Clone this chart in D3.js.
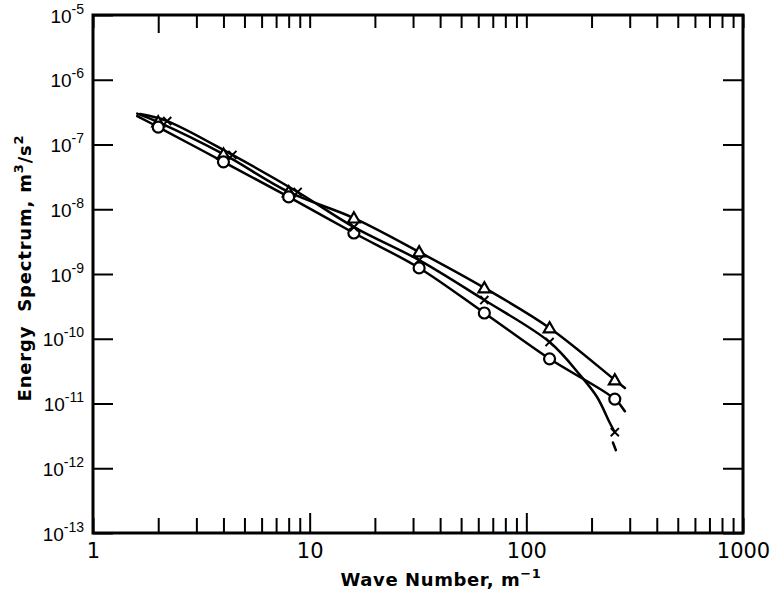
<!DOCTYPE html>
<html>
<head>
<meta charset="utf-8">
<script src="https://cdn.jsdelivr.net/npm/d3@7"></script>
<style>
  body { margin: 0; background: #fff; }
  svg { display: block; font-family: "DejaVu Sans", sans-serif; }
</style>
</head>
<body>
<script>
"use strict";

// wave numbers of the measured points (the x points are drawn a bit to the right at low k)
const waveNumbers = [2, 4, 8, 16, 32, 64, 128, 256];
const crossWaveNumbers = [2.2, 4.4, 8.8, 16, 32, 64, 128, 256];

// energy spectrum values, m^3/s^2
const triangleValues = [2.22e-7, 7.1e-8, 1.85e-8, 7.3e-9, 2.19e-9, 6.1e-10, 1.47e-10, 2.31e-11];
const circleValues   = [1.86e-7, 5.4e-8, 1.55e-8, 4.3e-9, 1.24e-9, 2.5e-10, 4.9e-11, 1.17e-11];
const crossValues    = [2.3e-7, 6.9e-8, 1.85e-8, 5.3e-9, 1.64e-9, 3.96e-10, 8.9e-11, 3.6e-12];

// extra points of the hand drawn curves (start / end / the bend of the x curve)
const triangleCurveStart = [1.6, 3.0e-7], triangleCurveEnd = [285, 1.73e-11];
const circleCurveStart = [1.6, 2.75e-7], circleCurveEnd = [285, 7.6e-12];
const crossCurveStart = [1.65, 2.95e-7];
const crossBend = [[177, 2.75e-11], [212, 1.26e-11], [243, 5.0e-12]];
const crossTail = [[251, 2.5e-12], [259, 1.9e-12]];

const xTickLabels = [1, 10, 100, 1000];
const yExponents = [-5, -6, -7, -8, -9, -10, -11, -12, -13];

const width = 770, height = 595;
const margin = {top: 15, right: 27, bottom: 62, left: 93};

const svg = d3.select("body").append("svg")
    .attr("width", width)
    .attr("height", height);

const x = d3.scaleLog().domain([1, 1000]).range([margin.left, width - margin.right]);
const y = d3.scaleLog().domain([1e-13, 1e-5]).range([height - margin.bottom, margin.top]);

// minor + major tick values along the x axis
let xTicks = [];
for (let dec = 1; dec < 1000; dec *= 10) {
    for (let m = 1; m < 10; m++) xTicks.push(dec * m);
}
xTicks.push(1000);
const yTicks = yExponents.map(e => Math.pow(10, e));

function styleAxis(g) {
    g.select(".domain").remove();
    g.selectAll(".tick line").attr("stroke", "#000").attr("stroke-width", 2);
}

// bottom axis
svg.append("g")
    .attr("transform", "translate(0," + y.range()[0] + ")")
    .call(d3.axisBottom(x).tickValues(xTicks).tickSize(-15).tickPadding(10)
        .tickFormat(d => xTickLabels.includes(d) ? d : ""))
    .call(styleAxis)
    .call(g => g.selectAll(".tick line").attr("y2", d => (d === 10 || d === 100) ? -20 : -15))
    .call(g => g.selectAll(".tick text")
        .attr("font-size", 21).attr("fill", "#000").attr("font-family", "DejaVu Sans"));

// top axis
svg.append("g")
    .attr("transform", "translate(0," + y.range()[1] + ")")
    .call(d3.axisTop(x).tickValues(xTicks).tickSize(-13).tickFormat(""))
    .call(styleAxis)
    .call(g => g.selectAll(".tick line").attr("y2", d => d === 2 ? 18 : 13));

// left axis with 10^n labels
svg.append("g")
    .attr("transform", "translate(" + x.range()[0] + ",0)")
    .call(d3.axisLeft(y).tickValues(yTicks).tickSize(-20).tickFormat(""))
    .call(styleAxis)
    .call(g => g.selectAll(".tick").append("text")
        .attr("x", -9)
        .attr("y", 7)
        .attr("text-anchor", "end")
        .attr("fill", "#000")
        .attr("font-size", 19)
        .each(function(d) {
            let t = d3.select(this);
            t.append("tspan").text("10");
            t.append("tspan")
                .attr("font-size", 14)
                .attr("dy", -9)
                .text("-" + Math.round(-Math.log10(d)));
        }));

// right axis
svg.append("g")
    .attr("transform", "translate(" + x.range()[1] + ",0)")
    .call(d3.axisRight(y).tickValues(yTicks).tickSize(-20).tickFormat(""))
    .call(styleAxis);

// frame
svg.append("rect")
    .attr("x", x.range()[0])
    .attr("y", y.range()[1])
    .attr("width", x.range()[1] - x.range()[0])
    .attr("height", y.range()[0] - y.range()[1])
    .attr("fill", "none")
    .attr("stroke", "#000")
    .attr("stroke-width", 3);

// curves
const line = d3.line()
    .x(d => x(d[0]))
    .y(d => y(d[1]))
    .curve(d3.curveCatmullRom.alpha(0.5));

const trianglePts = waveNumbers.map((k, i) => [k, triangleValues[i]]);
const circlePts = waveNumbers.map((k, i) => [k, circleValues[i]]);
const crossPts = crossWaveNumbers.map((k, i) => [k, crossValues[i]]);

const curves = [
    [triangleCurveStart].concat(trianglePts, [triangleCurveEnd]),
    [circleCurveStart].concat(circlePts, [circleCurveEnd]),
    [crossCurveStart].concat(crossPts.slice(0, 7), crossBend, [crossPts[7]]),
    crossTail
];

svg.append("g").selectAll("path")
    .data(curves)
    .enter()
    .append("path")
    .attr("d", line)
    .attr("fill", "none")
    .attr("stroke", "#000")
    .attr("stroke-width", 2.5)
    .attr("stroke-linecap", "round");

// markers
svg.append("g").selectAll("path")
    .data(trianglePts)
    .enter()
    .append("path")
    .attr("transform", d => "translate(" + x(d[0]) + "," + (y(d[1]) + 1) + ")")
    .attr("d", d3.symbol(d3.symbolTriangle, 60))
    .attr("fill", "#fff")
    .attr("stroke", "#000")
    .attr("stroke-width", 2.2);

svg.append("g").selectAll("circle")
    .data(circlePts)
    .enter()
    .append("circle")
    .attr("cx", d => x(d[0]))
    .attr("cy", d => y(d[1]))
    .attr("r", 5.5)
    .attr("fill", "#fff")
    .attr("stroke", "#000")
    .attr("stroke-width", 2.2);

svg.append("g").selectAll("path")
    .data(crossPts)
    .enter()
    .append("path")
    .attr("transform", d => "translate(" + x(d[0]) + "," + y(d[1]) + ")")
    .attr("d", d3.symbol(d3.symbolX, 45))
    .attr("fill", "none")
    .attr("stroke", "#000")
    .attr("stroke-width", 2);

// axis titles
let xTitle = svg.append("text")
    .attr("x", 441)
    .attr("y", 586)
    .attr("text-anchor", "middle")
    .attr("font-size", 18)
    .attr("font-weight", "bold")
    .attr("letter-spacing", 0.6)
    .attr("fill", "#000");
xTitle.append("tspan").text("Wave Number, m");
xTitle.append("tspan").attr("font-size", 13).attr("dy", -8).text("\u22121");

let yTitle = svg.append("text")
    .attr("transform", "translate(31,268) rotate(-90)")
    .attr("text-anchor", "middle")
    .attr("font-size", 18)
    .attr("font-weight", "bold")
    .attr("letter-spacing", 0.8)
    .attr("fill", "#000")
    .attr("xml:space", "preserve");
yTitle.append("tspan").text("Energy  Spectrum, m");
yTitle.append("tspan").attr("font-size", 13).attr("dy", -8).text("3");
yTitle.append("tspan").attr("dy", 8).text("/s");
yTitle.append("tspan").attr("font-size", 13).attr("dy", -8).text("2");
</script>
</body>
</html>
